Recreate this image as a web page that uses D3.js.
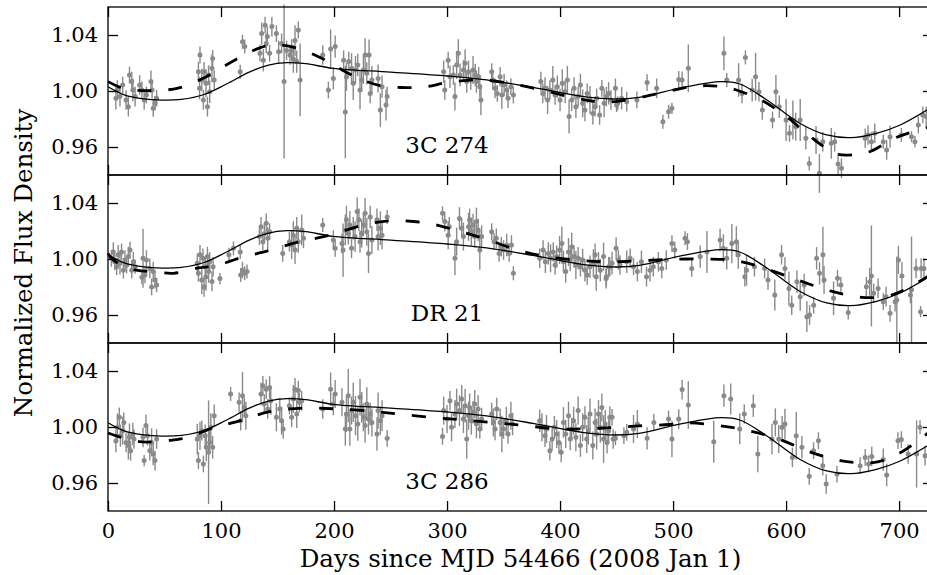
<!DOCTYPE html>
<html>
<head>
<meta charset="utf-8">
<script src="https://cdn.jsdelivr.net/npm/d3@7"></script>
<style>
body{margin:0;background:#fff}
svg{display:block}
text{font-family:"DejaVu Serif",serif;fill:#000}
</style>
</head>
<body>
<svg id="chart" width="927" height="575"></svg>
<script>
// source names, one per panel
var sources = ["3C 274", "DR 21", "3C 286"];
var xTicks = [0, 100, 200, 300, 400, 500, 600, 700];
var yTicks = [0.96, 1.00, 1.04];

// measurements: [day, normalized flux, 1-sigma error]
var data274 = [
[7,0.9948,0.008],[8.3,1.0007,0.007],[10.6,0.996,0.007],[13,1.0043,0.006],[16,0.9936,0.007],[18,0.9888,0.007],[19,1.0114,0.006],[21,1.0067,0.007],[22,1.0007,0.008],[24,0.996,0.007],[28,1.0043,0.007],[30,1.0007,0.006],[32,0.9936,0.007],[34,0.9971,0.006],[38,1.0067,0.008],[39,1.0007,0.006],[40,0.9876,0.006],[41.6,0.9912,0.005],[43,0.9948,0.006],
[80,1.0138,0.007],[81,1.0019,0.008],[81.4,1.0257,0.006],[83,1.0079,0.008],[84.4,0.9936,0.007],[85,1.0138,0.007],[86.7,1.0055,0.010],[88,0.9888,0.007],[89,1.0114,0.007],[90,0.9995,0.008],[92,1.0162,0.010],[92.6,1.0233,0.006],[94,1.0079,0.007],
[117,1.0138,0.005],[119,1.0352,0.005],[121,1.0317,0.005],
[134.5,1.027,0.006],[136,1.041,0.008],[137.5,1.022,0.008],[139,1.047,0.006],[140,1.034,0.007],[141,1.039,0.007],[143,1.027,0.006],[145,1.046,0.007],[149,1.041,0.006],[151,1.028,0.008],[153.6,1.034,0.007],[155.8,1.0067,0.055],[158,1.029,0.007],[161,1.0257,0.007],[162.5,1.029,0.008],[164,1.023,0.010],[165.5,1.036,0.011],[167,1.021,0.008],[168.4,1.0436,0.006],[170,1.0079,0.026],
[190,1.0257,0.007],[195,1.0007,0.006],[197,1.030,0.014],[199.4,1.009,0.008],[201,1.0317,0.008],[208.5,1.022,0.007],[210,0.985,0.033],[211,1.010,0.010],[213,1.021,0.007],[215.5,1.016,0.011],[217,1.0055,0.012],[219,1.015,0.010],[221,1.0186,0.008],[223,1.0007,0.014],[224.5,1.0079,0.008],[226,1.015,0.010],[227.5,1.0257,0.012],[229,1.0126,0.008],[231,1.0257,0.011],[232,0.9983,0.007],[233.5,1.0079,0.010],[239,1.009,0.010],[241,0.9864,0.012],[242.5,1.0031,0.008],[246,0.99,0.011],[247,0.996,0.007],
[297,1.0138,0.008],[298,1.0007,0.007],[301,1.022,0.006],[302.6,1.0102,0.008],[305.6,1.0114,0.007],[307,0.996,0.010],[308.5,1.0186,0.010],[310,1.027,0.010],[311.5,1.0114,0.008],[314.5,1.015,0.007],[316,1.0198,0.010],[317.4,1.0067,0.008],[319,1.0138,0.008],[321,1.0079,0.007],[323,1.015,0.010],[325,1.0114,0.008],[326,1.0067,0.008],[328,1.0102,0.007],[329,1.0031,0.008],[330,0.9936,0.011],
[339.5,1.0138,0.006],[340.4,1.0079,0.007],[342.5,1.0019,0.007],[344.5,0.9983,0.006],[347,1.0102,0.007],[348.5,0.9971,0.010],[350.5,1.0043,0.008],[352.8,1.0007,0.007],[354,0.9948,0.007],[356.5,1.0031,0.006],[358.7,0.9971,0.006],
[383,1.0067,0.007],[384.7,0.9983,0.007],[386.7,1.0019,0.008],[389,0.9936,0.010],[391,1.0007,0.007],[393.6,1.0079,0.010],[395.6,0.9971,0.007],[397.6,1.0031,0.008],[400,0.9936,0.008],[402,1.0055,0.010],[404.5,0.9995,0.008],[406.5,1.0079,0.010],[408,0.9817,0.012],[410.3,0.9936,0.008],[412.4,1.0019,0.008],[414,0.9888,0.008],[416,0.996,0.007],[418,1.0043,0.008],[420,0.9912,0.010],[422,0.9864,0.008],[424,0.9983,0.007],[426.5,0.9936,0.010],[429,0.984,0.008],[431,0.9888,0.007],[432.4,0.9948,0.007],[435,0.9829,0.007],[437,1.0019,0.006],[439,0.9912,0.010],[441,0.996,0.007],[443,0.9983,0.008],[445,0.9936,0.007],[449,1.0019,0.007],[451,0.9912,0.005],
[450,0.99,0.005],[454.5,0.9948,0.008],[459,0.9924,0.007],[468,0.9936,0.006],[477,1.006,0.006],[485.5,1.0019,0.007],[491,0.978,0.005],[496,0.9852,0.005],[499,0.9876,0.004],[505,1.0083,0.006],[508,1.0079,0.006],[513.5,1.0162,0.017],
[545,1.0269,0.012],[547.5,1.0079,0.005],[558,1.0079,0.012],[561,0.9983,0.007],[564,1.024,0.005],[570,1.0007,0.008],[573,1.0102,0.017],[576,0.9995,0.007],[579,0.9864,0.007],[588,0.9793,0.006],[591,0.9995,0.012],[594,0.9888,0.008],[600,0.9793,0.015],[603,0.9698,0.006],[606,0.9793,0.014],[608.5,0.9745,0.010],[612.5,0.9793,0.015],[617.5,0.9662,0.008],[620.5,0.9483,0.005],[626.5,0.965,0.010],[629.5,0.9412,0.014],[632.5,0.9638,0.007],[640,0.9626,0.011],[643,0.9638,0.007],[646,0.9479,0.008],[649,0.9448,0.007],
[670,0.9662,0.007],[672.5,0.9686,0.007],[675.5,0.9638,0.007],[678.5,0.9698,0.007],[686,0.9638,0.005],[689,0.9579,0.007],[692,0.9674,0.008],[702,0.9686,0.005],[711,0.9674,0.004],[714,0.9638,0.004],[717,0.9757,0.006],[721,0.9829,0.006],[724,0.9817,0.007]
];

var dataDR21 = [
[3,1.0005,0.006],[4.7,1.005,0.007],[6,0.998,0.006],[7.7,0.9945,0.006],[9,1.003,0.007],[10.6,0.997,0.008],[12,1.005,0.006],[13.6,0.992,0.006],[15,0.9993,0.007],[16.5,0.9957,0.006],[18,1.0017,0.007],[19.5,1.0064,0.006],[21,0.992,0.006],[22.4,0.998,0.007],[24,0.9945,0.005],[30,0.987,0.005],[31,1.0005,0.021],[32.7,0.9886,0.006],[34,0.9993,0.007],[37,0.9933,0.007],[38.6,0.980,0.006],[40,0.991,0.007],[41.6,0.985,0.006],[43,0.9814,0.005],
[79,0.997,0.007],[80,0.9898,0.006],[81.4,1.003,0.007],[83,0.985,0.010],[84,1.0005,0.007],[85,0.980,0.007],[86,0.9945,0.007],[86.7,0.9874,0.010],[88,1.0017,0.007],[89,0.991,0.008],[90,0.998,0.007],[92,0.984,0.007],[93,0.9945,0.007],[99,0.986,0.004],
[107,1.003,0.005],[111,1.0076,0.005],[117,1.005,0.005],[117.4,0.9886,0.005],[119,0.992,0.006],[121,0.9898,0.005],[123,0.991,0.005],
[134,1.016,0.006],[135.4,1.023,0.007],[137,1.0124,0.006],[138.3,1.018,0.007],[140,1.0255,0.007],[141.3,1.0148,0.008],[143,1.0195,0.006],[154.6,1.004,0.006],[160.5,1.0124,0.007],[162.5,1.010,0.010],[164,1.017,0.010],[165.5,1.0064,0.010],[167,1.022,0.008],[168.4,1.0124,0.008],[171.4,1.0207,0.011],[173,1.0148,0.007],
[190,1.0243,0.005],[199.4,1.0136,0.007],[201,1.0076,0.006],[207,1.011,0.007],[208,1.0064,0.019],[210,1.0207,0.011],[211,1.028,0.010],[212.6,1.0183,0.008],[214,1.0243,0.010],[215.5,1.0076,0.007],[217,1.022,0.008],[218.6,1.016,0.011],[220.5,1.034,0.010],[222,1.028,0.008],[223,1.0124,0.008],[224.5,1.0183,0.010],[226,1.0243,0.008],[227.5,1.0326,0.011],[229,1.0195,0.010],[230.5,1.004,0.014],[232,1.030,0.008],[233.5,1.0136,0.010],[238,1.028,0.008],[239,1.016,0.010],[241,1.022,0.012],[242.5,1.017,0.010],[247,1.030,0.005],
[296,1.0326,0.005],[298,1.0267,0.007],[301,1.017,0.010],[302,1.023,0.007],[307,1.0005,0.012],[308.5,1.0124,0.010],[311,1.029,0.008],[313,1.022,0.007],[314.5,1.016,0.010],[319,1.023,0.010],[320,1.028,0.008],[321.5,1.0195,0.010],[323,1.0243,0.008],[324.5,1.016,0.008],[326,1.0267,0.010],[327.5,1.0207,0.008],[329,1.0064,0.014],[330.6,1.016,0.008],
[339.5,1.0195,0.006],[341.6,1.0124,0.006],[343.6,1.0148,0.007],[346,1.004,0.006],[348,1.0088,0.007],[350,1.0064,0.007],[352.8,1.010,0.008],[355,1.004,0.006],[357,1.010,0.007],[358.7,0.9898,0.005],
[382,1.0005,0.007],[385,1.0064,0.007],[387,0.998,0.008],[389.6,1.004,0.008],[391.6,1.0005,0.010],[394,1.005,0.007],[395.6,0.9957,0.007],[397,1.0017,0.008],[399.6,1.0064,0.010],[401.6,1.011,0.012],[403,0.998,0.008],[405,0.991,0.008],[407.5,1.005,0.010],[409,0.9993,0.008],[410.3,1.0088,0.010],[412.4,1.0017,0.008],[414,0.9957,0.010],[416,1.0005,0.008],[418,0.9945,0.007],[420,0.9993,0.008],[422,0.992,0.008],[424,0.9886,0.007],[426.5,0.9945,0.008],[429.5,0.997,0.010],[431,1.003,0.008],[432,0.9874,0.010],[434,0.998,0.007],[435.6,0.992,0.008],[438.5,1.0017,0.010],[441,0.9874,0.007],[443,0.9945,0.007],[446,0.997,0.008],[449.6,1.0076,0.008],[451.6,0.9993,0.007],
[440.7,0.986,0.007],[444,0.9945,0.007],[453,0.9957,0.007],[459,0.998,0.008],[462,1.0005,0.007],[465,0.9945,0.006],[468.4,0.991,0.007],[472,0.998,0.008],[476.5,0.9874,0.007],[479.6,0.992,0.008],[482.5,0.9945,0.007],[487,0.998,0.007],[490,0.9933,0.007],[494,0.9993,0.007],[499,1.011,0.006],[501.5,1.0064,0.006],[510.6,1.0148,0.005],[512.7,1.0124,0.006],[516.5,0.9933,0.006],[524,1.0017,0.008],[530,1.005,0.015],
[541.6,1.0136,0.008],[544.5,1.0076,0.010],[547.5,1.0005,0.008],[552,1.011,0.014],[556,1.0124,0.011],[557.7,1.003,0.010],[563.5,0.9874,0.007],[565,0.992,0.011],[572,0.9945,0.007],[581,0.9933,0.007],[584,0.985,0.007],[590,0.9743,0.011],[596,1.003,0.007],[599,0.9933,0.008],[602.5,0.979,0.012],[605,0.967,0.007],[609.6,0.9838,0.008],[612.5,0.9731,0.010],[616,0.9814,0.008],[618.4,0.9588,0.011],[620.8,0.960,0.007],[624.4,0.967,0.006],[627,1.0005,0.008],[629.6,0.9898,0.008],[632.6,1.003,0.020],[633.6,0.985,0.010],[642,0.9719,0.012],[645.5,0.9862,0.006],[648.5,0.9814,0.006],[655,0.9617,0.005],
[671,0.9802,0.007],[674,0.9838,0.010],[675.5,0.9879,0.036],[677.5,0.9755,0.007],[681.4,0.979,0.007],[686,0.9695,0.006],[688.5,0.9731,0.007],[692,0.9612,0.006],[696.5,0.9695,0.007],[698,0.9707,0.031],[699.4,0.9993,0.010],[702.5,0.9879,0.010],[710,0.9743,0.006],[711,0.978,0.038],[715,0.9933,0.007],[719,0.9624,0.004],[719.5,0.9933,0.007],[722,0.9933,0.007]
];

var data286 = [
[7,0.990,0.008],[8.3,0.9998,0.010],[10,1.0069,0.007],[11,0.9938,0.008],[13,0.9974,0.010],[14,1.0033,0.007],[16,0.989,0.007],[18,0.9867,0.010],[19,0.9926,0.010],[20,0.983,0.007],[22,0.995,0.008],[23,0.9914,0.007],[31,0.9926,0.007],[32,0.976,0.004],[33.6,1.001,0.008],[35,0.9938,0.007],[37,0.983,0.007],[38.6,0.989,0.010],[40,0.9807,0.008],[41.6,0.976,0.007],[43,0.9914,0.007],
[79,0.9914,0.011],[80,0.976,0.006],[81.4,0.9938,0.010],[83,0.9974,0.007],[84.4,0.9736,0.006],[86,0.9938,0.008],[87,0.9855,0.010],[89,0.982,0.037],[90,0.989,0.008],[91,0.9998,0.010],[92.6,0.9855,0.008],[94,1.008,0.008],
[108.5,1.0236,0.005],[116,1.0176,0.007],[117.4,1.0045,0.007],[119,1.0224,0.017],[120.6,1.014,0.007],[122,1.008,0.010],
[135.4,1.0236,0.008],[137,1.0295,0.007],[138.3,1.0164,0.007],[140,1.027,0.007],[141.3,1.0129,0.007],[143,1.0283,0.008],[144,1.0188,0.010],[149,1.0069,0.010],[152,1.0129,0.008],[153.6,1.0045,0.010],[155,0.9986,0.007],[160.5,1.0152,0.006],[162.5,1.0069,0.007],[164,1.02,0.010],[165.5,1.027,0.008],[167,1.0093,0.010],[168.4,1.026,0.007],[169.3,1.0176,0.007],[171.4,1.0188,0.007],
[190,1.0129,0.007],[197,1.027,0.012],[199.4,1.0164,0.008],[201,1.0236,0.010],[207,1.0176,0.010],[210,0.9986,0.012],[211,1.0093,0.013],[212.6,1.0224,0.019],[214,0.9986,0.012],[215.5,1.0117,0.010],[217,1.0176,0.014],[219,1.0081,0.014],[221,1.0021,0.012],[223,1.0212,0.013],[224.5,1.014,0.011],[226,1.0069,0.010],[227.5,1.001,0.012],[229,1.0164,0.012],[230.5,1.0057,0.011],[232,1.0093,0.008],[233.5,1.0033,0.010],[238,0.995,0.012],[239,1.0117,0.013],[241,1.0045,0.010],[242.5,1.0081,0.011],[247,0.9919,0.006],
[296,0.9933,0.006],[297,1.0117,0.010],[300,1.0057,0.010],[302.6,1.0188,0.007],[304,0.9998,0.010],[307,1.0093,0.010],[308.5,1.0164,0.011],[311,1.0117,0.011],[313,1.02,0.010],[314.5,1.0057,0.010],[316,1.0152,0.012],[317.4,0.9914,0.014],[319,1.0081,0.010],[320,1.014,0.010],[321.5,1.0045,0.010],[323,1.0105,0.008],[324.5,1.0164,0.010],[326,1.0021,0.010],[327.5,1.0129,0.010],[329,0.9986,0.007],[330.6,1.0057,0.008],
[339.5,1.0093,0.008],[341,1.0033,0.010],[342.5,0.9986,0.008],[344,1.0129,0.008],[347,1.0033,0.010],[348.5,0.995,0.013],[350,0.9986,0.007],[352.5,1.0045,0.010],[354,0.995,0.007],[356.5,1.0081,0.010],[358,1.0021,0.008],
[382,1.0045,0.008],[384,0.9998,0.010],[386.7,0.9938,0.008],[388,0.9986,0.010],[391,0.983,0.007],[393,0.9914,0.008],[395,0.9998,0.008],[397,0.995,0.010],[399,0.989,0.008],[401,0.9819,0.007],[403,1.0033,0.011],[405,0.995,0.010],[407.5,1.0081,0.010],[409,0.9914,0.008],[410.3,0.9986,0.008],[412,1.0045,0.010],[414,0.9926,0.010],[416,1.0117,0.010],[418,0.9867,0.008],[420,0.9998,0.010],[422,1.0069,0.008],[423.6,0.9914,0.010],[425,0.9974,0.010],[426.5,1.0093,0.011],[429,0.9867,0.010],[431,1.0033,0.010],[432.4,0.995,0.011],[434,1.0093,0.010],[435.6,0.9998,0.011],[437,1.014,0.010],[438.5,0.9914,0.017],[440,1.0021,0.010],[441.6,0.989,0.008],[444,1.0069,0.008],[447,0.9914,0.007],
[443,0.9974,0.008],[446,1.0069,0.006],[449,0.9919,0.005],[456.5,0.9938,0.006],[459,0.9962,0.006],[465,0.9986,0.010],[468.4,1.0021,0.010],[477,0.9919,0.008],[483,1.0033,0.006],[496,1.0057,0.006],[499,0.9914,0.013],[505,1.0057,0.007],[508,1.0267,0.007],[513.5,1.0157,0.017],
[536,0.9895,0.015],[545,1.0224,0.008],[551,1.02,0.011],[559,0.9986,0.011],[563,1.0093,0.007],[571,1.0152,0.008],[575,0.9807,0.013],[587.5,0.9914,0.011],[590.5,1.0033,0.010],[593.5,0.9914,0.010],[596.5,0.9998,0.008],[599,1.0021,0.011],[605.6,0.9783,0.007],[609,0.9938,0.017],[614,0.9855,0.008],[620.5,0.9648,0.006],[624.3,0.9831,0.006],[628.6,0.9902,0.006],[632.5,0.9724,0.007],[635.5,0.9593,0.007],[645,0.9664,0.006],
[665.5,0.9724,0.006],[670,0.9783,0.006],[673,0.9736,0.006],[675.8,0.979,0.007],[686,0.9767,0.008],[689,0.9657,0.008],[699,0.9902,0.006],[702,0.991,0.006],[708,0.9807,0.007],[715.5,0.9807,0.024],[718.5,0.9998,0.005],[723,0.9795,0.007]
];

// model curves, sampled from the figure: [day, normalized flux]
var solidFit = [[0,1.003],[15,0.997],[30,0.9945],[48,0.9935],[65,0.994],[85,0.9975],[105,1.005],[125,1.0135],[142,1.0185],[158,1.0202],[175,1.0195],[199,1.0162],[250,1.0135],[300,1.0107],[335,1.0079],[376,1.0026],[421,0.996],[450,0.9943],[470,0.9955],[509,1.0026],[542,1.0067],[559,1.005],[583,0.9936],[612,0.977],[636,0.9686],[657,0.9667],[680,0.9698],[701,0.9757],[730,0.989]];

var dash274 = [[0,1.0067],[13,1.002],[30,1.0003],[45,1.0005],[62,1.002],[87,1.0102],[112,1.022],[135,1.031],[150,1.0329],[168,1.0305],[190,1.023],[205,1.016],[222,1.009],[240,1.004],[260,1.0025],[280,1.0028],[300,1.006],[328,1.008],[355,1.0055],[384,1.0007],[413,0.995],[440,0.992],[468,0.995],[494,0.9995],[520,1.0035],[545,1.003],[556,1.0007],[577,0.994],[600,0.982],[622,0.967],[645,0.955],[660,0.9545],[675,0.957],[698,0.967],[730,0.975]];

var dashDR21 = [[0,1.004],[5,0.999],[25,0.992],[40,0.991],[58,0.9898],[80,0.9936],[95,0.995],[115,1.0003],[142,1.006],[168,1.012],[196,1.017],[225,1.024],[250,1.0274],[270,1.0268],[287,1.025],[308,1.0205],[335,1.014],[362,1.0065],[388,1.0017],[418,0.999],[445,0.998],[472,0.9988],[500,0.9998],[530,1.000],[552,0.9993],[566,0.997],[586,0.992],[612,0.9845],[640,0.977],[667,0.9726],[690,0.9736],[705,0.978],[730,0.99]];

var dash286 = [[0,0.9957],[10,0.993],[28,0.9895],[42,0.9895],[60,0.991],[72,0.9928],[88,0.998],[117,1.0045],[143,1.011],[172,1.0135],[200,1.013],[232,1.0113],[257,1.0093],[287,1.0068],[313,1.0052],[340,1.0032],[367,1.0012],[398,0.9986],[425,0.9988],[445,0.9995],[470,1.0008],[497,1.0018],[512,1.003],[540,1.001],[566,0.9975],[594,0.9913],[620,0.9825],[648,0.976],[668,0.9743],[682,0.9752],[703,0.9825],[730,0.9985]];

var measurements = [data274, dataDR21, data286];
var dashedFits = [dash274, dashDR21, dash286];

var svg = d3.select("#chart");
// note: "top" is taken by window.top, so the panel origin is plotTop
var plotLeft = 108, plotRight = 933, plotTop = 7, ph = 168;
var grey = "#8a8a8a";

svg.append("rect").attr("width", 927).attr("height", 575).attr("fill", "#fff");

var x = d3.scaleLinear().domain([0, 730]).range([plotLeft, plotRight]);

sources.forEach(function(name, i){
	var y0 = plotTop + i * ph;
	var y = d3.scaleLinear().domain([0.94, 1.06]).range([y0 + ph, y0]);
	var g = svg.append("g");
	var pts = measurements[i];

	//error bars then points
	g.selectAll("line.err").data(pts).enter().append("line")
		.attr("class", "err")
		.attr("x1", function(d){return x(d[0]);})
		.attr("x2", function(d){return x(d[0]);})
		.attr("y1", function(d){return y(d[1] - d[2]);})
		.attr("y2", function(d){return y(d[1] + d[2]);})
		.attr("stroke", grey).attr("stroke-width", 1.4);
	g.selectAll("circle").data(pts).enter().append("circle")
		.attr("cx", function(d){return x(d[0]);})
		.attr("cy", function(d){return y(d[1]);})
		.attr("r", 2.5).attr("fill", grey);

	var line = d3.line()
		.x(function(d){return x(d[0]);})
		.y(function(d){return y(d[1]);})
		.curve(d3.curveCatmullRom.alpha(0.5));

	g.append("path").datum(dashedFits[i]).attr("d", line)
		.attr("fill", "none").attr("stroke", "#000").attr("stroke-width", 2.8)
		.attr("stroke-dasharray", "14,17");
	g.append("path").datum(solidFit).attr("d", line)
		.attr("fill", "none").attr("stroke", "#000").attr("stroke-width", 1.3);

	//frame
	g.append("rect").attr("x", plotLeft).attr("y", y0).attr("width", plotRight - plotLeft).attr("height", ph)
		.attr("fill", "none").attr("stroke", "#000").attr("stroke-width", 1.3);

	//axes, ticks pointing in
	var yl = g.append("g").attr("transform", "translate(" + plotLeft + ",0)")
		.call(d3.axisLeft(y).tickValues(yTicks).tickFormat(d3.format(".2f")).tickSize(-10).tickPadding(10));
	var yr = g.append("g").attr("transform", "translate(" + plotRight + ",0)")
		.call(d3.axisRight(y).tickValues(yTicks).tickFormat("").tickSize(-10));
	var xt = g.append("g").attr("transform", "translate(0," + y0 + ")")
		.call(d3.axisTop(x).tickValues(xTicks).tickFormat("").tickSize(-10));
	var xb = g.append("g").attr("transform", "translate(0," + (y0 + ph) + ")")
		.call(d3.axisBottom(x).tickValues(xTicks).tickSize(-10).tickPadding(12)
			.tickFormat(i == sources.length - 1 ? d3.format("d") : ""));
	[yl, yr, xt, xb].forEach(function(a){
		a.select(".domain").remove();
		a.selectAll("line").attr("stroke", "#000").attr("stroke-width", 1.3);
		a.selectAll("text").attr("font-size", 21).attr("font-family", "DejaVu Serif, serif");
	});

	g.append("text").attr("x", x(300)).attr("y", y0 + 146)
		.attr("text-anchor", "middle").attr("font-size", 23).text(name);
});

svg.append("text").attr("x", (plotLeft + plotRight) / 2).attr("y", 567)
	.attr("text-anchor", "middle").attr("font-size", 24.5)
	.text("Days since MJD 54466 (2008 Jan 1)");
svg.append("text").attr("transform", "translate(23,263) rotate(-90)")
	.attr("text-anchor", "middle").attr("dominant-baseline", "central").attr("font-size", 24.5)
	.text("Normalized Flux Density");
</script>
</body>
</html>
